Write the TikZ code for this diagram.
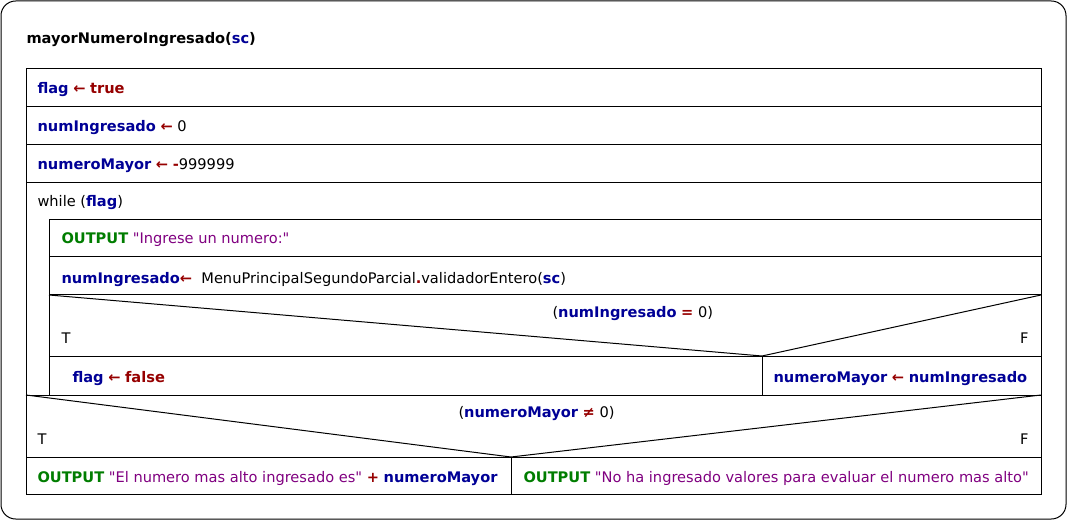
\documentclass[tikz,border=0pt]{standalone}
\usepackage{fontspec}
\setmainfont{DejaVu Sans}
\newfontfamily\plainq{DejaVu Sans}
\usetikzlibrary{positioning,calc}
\definecolor{varblue}{RGB}{0,0,150}
\definecolor{oprred}{RGB}{150,0,0}
\definecolor{iogreen}{RGB}{0,125,0}
\definecolor{strpurple}{RGB}{128,0,128}
\newcommand{\vn}[1]{\textcolor{varblue}{\textbf{#1}}}
\newcommand{\opr}[1]{\textcolor{oprred}{\textbf{#1}}}
\newcommand{\io}[1]{\textcolor{iogreen}{\textbf{#1}}}
\newcommand{\strg}[1]{\textcolor{strpurple}{{\plainq"}#1{\plainq"}}}
\tikzset{lbl/.style={anchor=base west, inner sep=0pt, font=\fontsize{10.95}{13}\selectfont}}
\tikzstyle{lblr}=[lbl, anchor=base east]

\begin{document}
\begin{tikzpicture}[x=0.75pt, y=-0.75pt, line width=0.75pt]
\useasboundingbox (0,0) rectangle (1067,520);
\draw[rounded corners=11pt] (1,1) rectangle (1066,519);
\node[lbl] (title) at (26,44) {\textbf{mayorNumeroIngresado(\vn{sc})}};
% main block
\draw (26,69) rectangle (1041,494);
\foreach \y in {107,145,183,395,457}
  \draw (26,\y) -- (1041,\y);
\node[lbl] (a1) at (37,94) {\vn{flag} \opr{←} \opr{true}};
\node[lbl] (a2) at (37,132) {\vn{numIngresado} \opr{←} 0};
\node[lbl] (a3) at (37,170) {\vn{numeroMayor} \opr{←} \opr{-}999999};
\node[lbl] (wh) at (37,207) {while (\vn{flag})};
% while body
\draw (49,395) -- (49,220) -- (1041,220);
\foreach \y in {257,295,356}
  \draw (49,\y) -- (1041,\y);
\node[lbl] (b1) at (61,244) {\io{OUTPUT} \strg{Ingrese un numero:}};
\node[lbl] (b2) at (61,283) {\vn{numIngresado}\opr{←}\ \ MenuPrincipalSegundoParcial\opr{.}validadorEntero(\vn{sc})};
\draw (49,295) -- (762,356) -- (1041,295);
\draw (762,356) -- (762,395);
\node[lbl] (c1) at (552,317) {(\vn{numIngresado} \opr{=} 0)};
\node[lbl] (c1t) at (61,343) {T};
\node[lblr] (c1f) at (1029,343) {F};
\node[lbl] (c1a) at (72,382) {\vn{flag} \opr{←} \opr{false}};
\node[lbl] (c1b) at (773,382) {\vn{numeroMayor} \opr{←} \vn{numIngresado}};
% last if
\draw (26,395) -- (511,457) -- (1041,395);
\draw (511,457) -- (511,494);
\node[lbl] (c2) at (458,417) {(\vn{numeroMayor} \opr{≠} 0)};
\node[lbl] (c2t) at (37,444) {T};
\node[lblr] (c2f) at (1029,444) {F};
\node[lbl] (c2a) at (37,482) {\io{OUTPUT} \strg{El numero mas alto ingresado es} \opr{+} \vn{numeroMayor}};
\node[lbl] (c2b) at (523,482) {\io{OUTPUT} \strg{No ha ingresado valores para evaluar el numero mas alto}};
\end{tikzpicture}
\end{document}
